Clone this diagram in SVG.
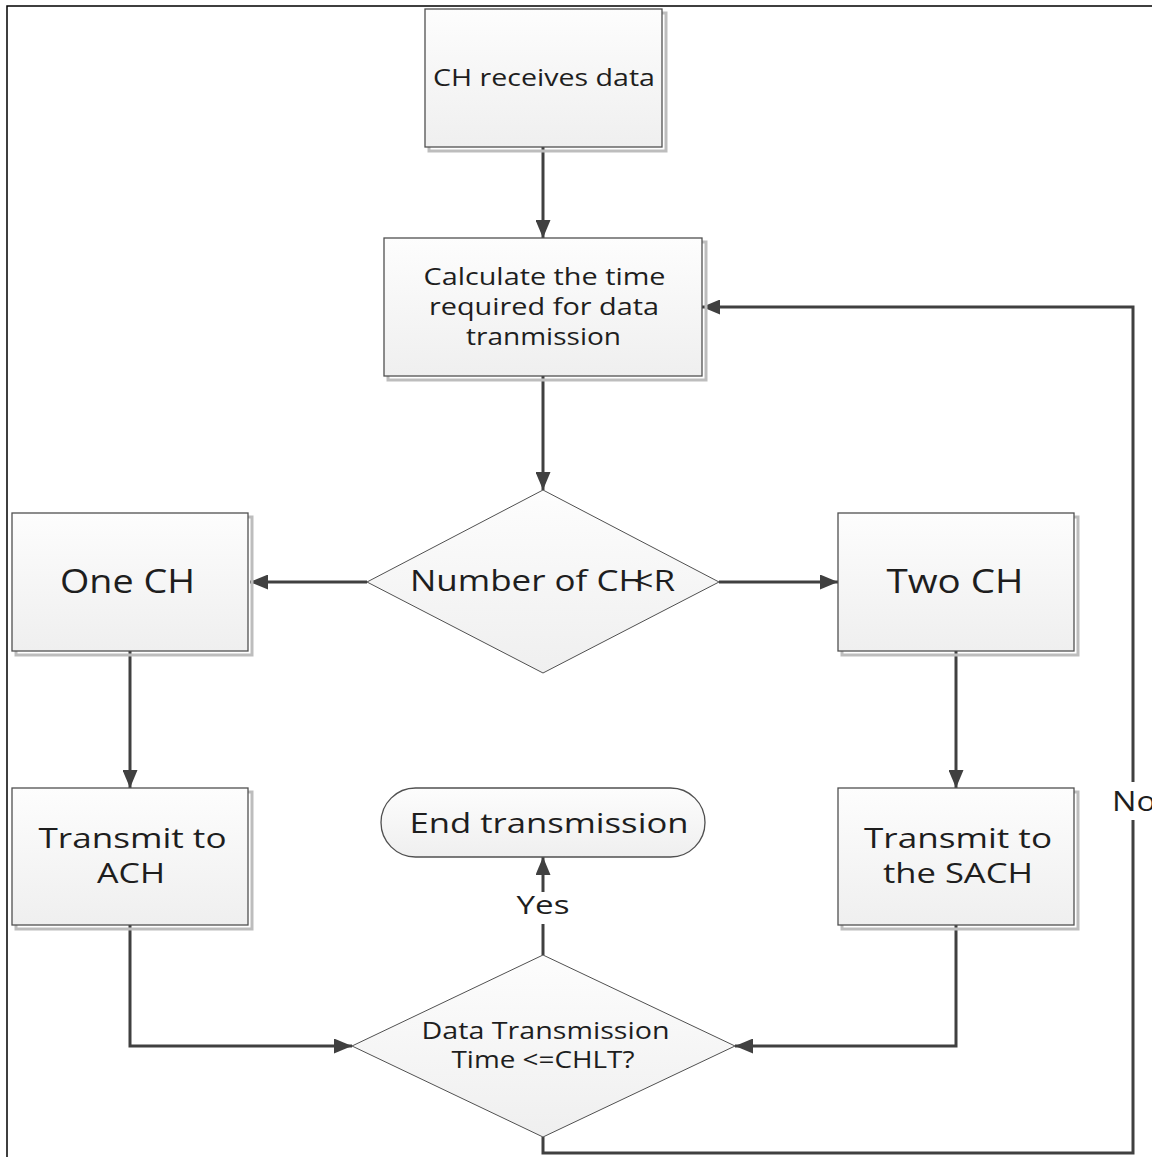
<svg xmlns="http://www.w3.org/2000/svg" width="1152" height="1157" viewBox="0 0 1152 1157">
  <defs>
    <linearGradient id="fillGrad" x1="0" y1="0" x2="0" y2="1">
      <stop offset="0" stop-color="#fdfdfd"/>
      <stop offset="1" stop-color="#efefef"/>
    </linearGradient>
    <marker id="arrow" viewBox="0 0 18 15" refX="18" refY="7.5" markerWidth="18" markerHeight="15" markerUnits="userSpaceOnUse" orient="auto">
      <path d="M0,0 L18,7.5 L0,15 Z" fill="#404040"/>
    </marker>
  </defs>
  <style>
    .box { fill: url(#fillGrad); stroke: #505050; stroke-width: 1.3; }
    .shadow { fill: none; stroke: #bdbdbd; stroke-width: 3; }
    .dec { fill: url(#fillGrad); stroke: #505050; stroke-width: 1; }
    .lbl { font-family: "Open Sans", "DejaVu Sans", sans-serif; fill: #1e1e1e; text-anchor: middle; }
    .conn { fill: none; stroke: #404040; stroke-width: 3; }
  </style>

  <rect x="0" y="0" width="1152" height="1157" fill="#ffffff"/>
  <!-- outer frame -->
  <path d="M7,1157 L7,6 L1152,6" fill="none" stroke="#000" stroke-width="1.5"/>

  <!-- connectors -->
  <g id="connectors">
    <path class="conn" d="M543,147 L543,238" marker-end="url(#arrow)"/>
    <path class="conn" d="M543,376 L543,490" marker-end="url(#arrow)"/>
    <path class="conn" d="M367,582 L250,582" marker-end="url(#arrow)"/>
    <path class="conn" d="M719,582 L838,582" marker-end="url(#arrow)"/>
    <path class="conn" d="M130,651 L130,788" marker-end="url(#arrow)"/>
    <path class="conn" d="M956,651 L956,788" marker-end="url(#arrow)"/>
    <path class="conn" d="M130,925 L130,1046 L352,1046" marker-end="url(#arrow)"/>
    <path class="conn" d="M956,925 L956,1046 L735,1046" marker-end="url(#arrow)"/>
    <path class="conn" d="M543,955 L543,924"/>
    <path class="conn" d="M543,892 L543,857" marker-end="url(#arrow)"/>
    <path class="conn" d="M543,1137 L543,1153 L1133,1153 L1133,820"/>
    <path class="conn" d="M1133,782 L1133,307 L702,307" marker-end="url(#arrow)"/>
    <text class="lbl" x="543" y="914" font-size="26" textLength="53" lengthAdjust="spacingAndGlyphs">Yes</text>
    <text class="lbl" x="1112" y="811" font-size="27" style="text-anchor:start" textLength="44" lengthAdjust="spacingAndGlyphs">No</text>
  </g>

  <g id="node-receive">
    <rect class="shadow" x="429" y="13" width="237" height="138"/>
    <rect class="box" x="425" y="9" width="237" height="138"/>
    <text class="lbl" x="544" y="86" font-size="24" textLength="222" lengthAdjust="spacingAndGlyphs">CH receives data</text>
  </g>

  <g id="node-calculate">
    <rect class="shadow" x="388" y="242" width="318" height="138"/>
    <rect class="box" x="384" y="238" width="318" height="138"/>
    <text class="lbl" x="544.5" y="285" font-size="23" textLength="242" lengthAdjust="spacingAndGlyphs">Calculate the time</text>
    <text class="lbl" x="544" y="315" font-size="23" textLength="230" lengthAdjust="spacingAndGlyphs">required for data</text>
    <text class="lbl" x="543.5" y="345" font-size="23" textLength="155" lengthAdjust="spacingAndGlyphs">tranmission</text>
  </g>

  <g id="node-one-ch">
    <rect class="shadow" x="16" y="517" width="236" height="138"/>
    <rect class="box" x="12" y="513" width="236" height="138"/>
    <text class="lbl" x="127.5" y="593" font-size="32" textLength="135" lengthAdjust="spacingAndGlyphs">One CH</text>
  </g>

  <g id="node-number">
    <polygon class="dec" points="543,490 719,582 543,673 367,582"/>
    <text class="lbl" x="542.5" y="591" font-size="29" textLength="265" lengthAdjust="spacingAndGlyphs">Number of CH<tspan dx="-9">&lt;</tspan>R</text>
  </g>

  <g id="node-two-ch">
    <rect class="shadow" x="842" y="517" width="236" height="138"/>
    <rect class="box" x="838" y="513" width="236" height="138"/>
    <text class="lbl" x="955" y="593" font-size="32" textLength="137" lengthAdjust="spacingAndGlyphs">Two CH</text>
  </g>

  <g id="node-transmit-ach">
    <rect class="shadow" x="16" y="792" width="236" height="137"/>
    <rect class="box" x="12" y="788" width="236" height="137"/>
    <text class="lbl" x="132.5" y="848" font-size="28" textLength="188" lengthAdjust="spacingAndGlyphs">Transmit to</text>
    <text class="lbl" x="131" y="883" font-size="28" textLength="68" lengthAdjust="spacingAndGlyphs">ACH</text>
  </g>

  <g id="node-end">
    <rect class="box" x="381" y="788" width="324" height="69" rx="34.5" ry="34.5"/>
    <text class="lbl" x="549" y="833" font-size="27" textLength="279" lengthAdjust="spacingAndGlyphs">End transmission</text>
  </g>

  <g id="node-transmit-sach">
    <rect class="shadow" x="842" y="792" width="236" height="137"/>
    <rect class="box" x="838" y="788" width="236" height="137"/>
    <text class="lbl" x="958" y="848" font-size="28" textLength="188" lengthAdjust="spacingAndGlyphs">Transmit to</text>
    <text class="lbl" x="958" y="883" font-size="28" textLength="150" lengthAdjust="spacingAndGlyphs">the SACH</text>
  </g>

  <g id="node-check">
    <polygon class="dec" points="543,955 735,1046 543,1137 352,1046"/>
    <text class="lbl" x="545.5" y="1039" font-size="23" textLength="248" lengthAdjust="spacingAndGlyphs">Data Transmission</text>
    <text class="lbl" x="543" y="1068" font-size="23" textLength="183" lengthAdjust="spacingAndGlyphs">Time &lt;=CHLT?</text>
  </g>
</svg>
